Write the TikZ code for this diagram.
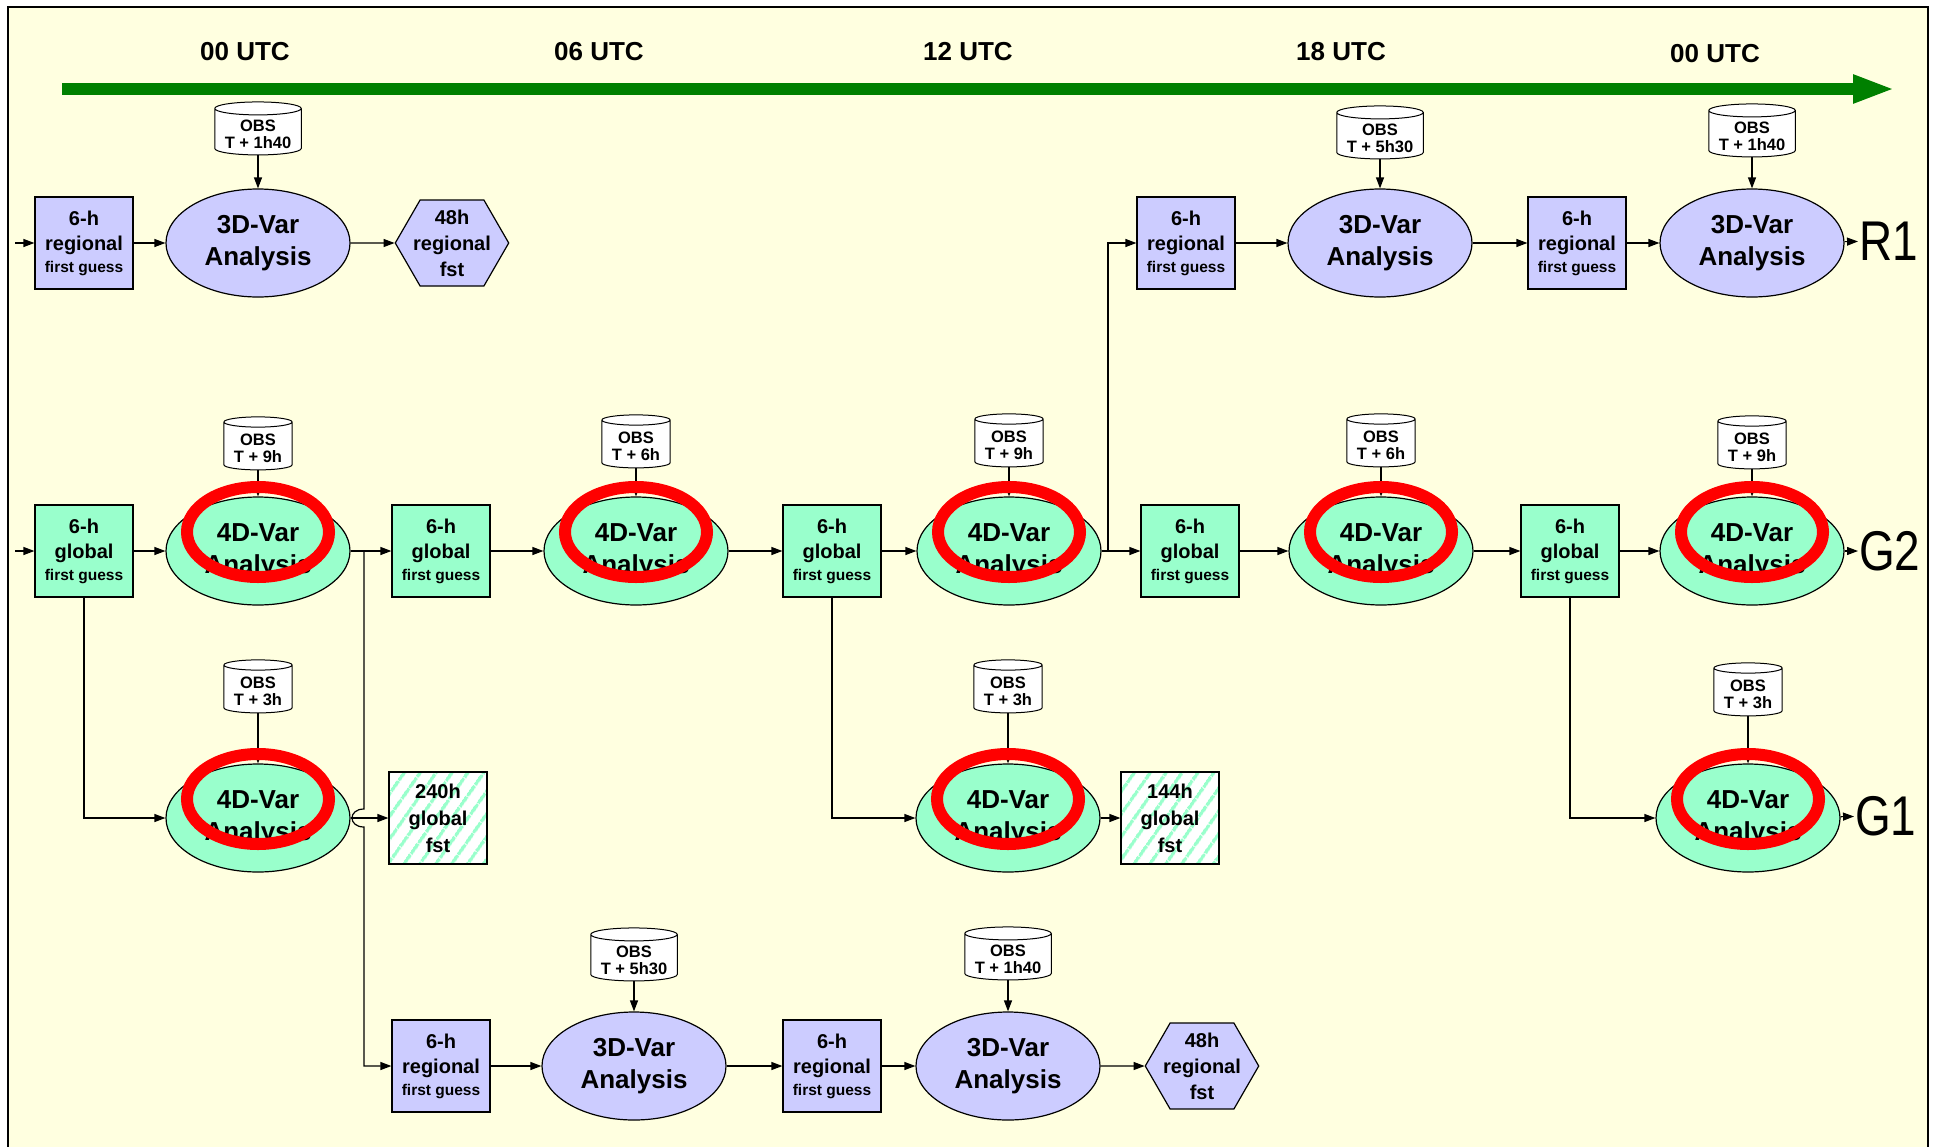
\documentclass[tikz,border=0pt]{standalone}
\usepackage{fontspec}
\setmainfont{Liberation Sans}
\usetikzlibrary{shapes.geometric,shapes.symbols,arrows.meta,patterns.meta}
\definecolor{bgyellow}{RGB}{255,255,224}
\definecolor{regblue}{RGB}{204,204,255}
\definecolor{mint}{RGB}{153,255,204}
\definecolor{timegreen}{RGB}{0,128,0}

\begin{document}
\begin{tikzpicture}[x=1pt,y=-1pt,
  regbox/.style={draw,fill=regblue,line width=1.2pt,minimum width=98pt,minimum height=92pt,inner sep=0pt,align=center,font=\bfseries\fontsize{20}{25}\selectfont},
  globox/.style={regbox,fill=mint},
  fstbox/.style={draw,line width=1.2pt,preaction={fill=white},preaction={pattern={Lines[angle=55,distance=13pt,line width=3.5pt]},pattern color=mint},minimum width=98pt,minimum height=92pt,inner sep=0pt,align=center,font=\bfseries\fontsize{20}{27}\selectfont},
  hexa/.style={signal,signal to=east and west,signal pointer angle=120,draw,fill=regblue,line width=1.2pt,minimum height=86pt,inner xsep=-7pt,inner ysep=0pt,align=center,font=\bfseries\fontsize{20}{26}\selectfont},
  ana3d/.style={ellipse,draw,fill=regblue,line width=1.2pt,minimum width=184pt,minimum height=108pt,inner sep=0pt,align=center,font=\bfseries\fontsize{26}{32}\selectfont},
  ana4d/.style={ana3d,fill=mint},
  obs/.style={cylinder,shape border rotate=90,aspect=0.15,draw,fill=white,line width=1pt,minimum height=53pt,inner xsep=10pt,inner ysep=2pt,align=center,font=\bfseries\fontsize{16.5}{17}\selectfont},
  link/.style={-{Triangle[length=11pt,width=8pt]},line width=1.2pt},
  ring/.style={red,line width=12pt},
  tag/.style={font=\fontsize{56}{56}\selectfont,xscale=0.82,inner sep=1pt,anchor=west},
  utc/.style={font=\bfseries\fontsize{26}{26}\selectfont}]
  \useasboundingbox (0,0) rectangle (1937,1146);
  \fill[white] (0,0) rectangle (1937,1146);
  \fill[bgyellow] (8,7) rectangle (1928,1150);
  \draw[line width=2pt] (8,1150) -- (8,7) -- (1928,7) -- (1928,1150);

  \coordinate (tl0) at (62,89);
  \coordinate (tl1) at (1895,89);
  \draw[timegreen,line width=12pt,-{Triangle[length=42pt,width=26pt]}] (tl0) -- (tl1);
  \node[utc] at (245,52) {00 UTC};
  \node[utc] at (599,52) {06 UTC};
  \node[utc] at (968,52) {12 UTC};
  \node[utc] at (1341,52) {18 UTC};
  \node[utc] at (1715,54) {00 UTC};

  \coordinate (r1in) at (15,243);
  \node[regbox] (r1fg0) at (84,243) {6-h\\regional\\[-3pt]{\fontsize{15.5}{18}\selectfont first guess}};
  \node[obs] (r1obs1) at (258,134) {OBS\\T + 1h40};
  \node[ana3d] (r1an1) at (258,243) {3D-Var\\Analysis};
  \node[hexa] (r1fst1) at (452,243) {48h\\regional\\fst};
  \node[regbox] (r1fg3) at (1186,243) {6-h\\regional\\[-3pt]{\fontsize{15.5}{18}\selectfont first guess}};
  \node[obs] (r1obs4) at (1380,138) {OBS\\T + 5h30};
  \node[ana3d] (r1an4) at (1380,243) {3D-Var\\Analysis};
  \node[regbox] (r1fg4) at (1577,243) {6-h\\regional\\[-3pt]{\fontsize{15.5}{18}\selectfont first guess}};
  \node[obs] (r1obs5) at (1752,136) {OBS\\T + 1h40};
  \node[ana3d] (r1an5) at (1752,243) {3D-Var\\Analysis};
  \node[tag] (r1tag) at (1858,241) {R1};

  \coordinate (g2in) at (15,551);
  \node[globox] (g2fg0) at (84,551) {6-h\\global\\[-3pt]{\fontsize{15.5}{18}\selectfont first guess}};
  \node[obs] (g2obs1) at (258,448) {OBS\\T + 9h};
  \node[ana4d] (g2an1) at (258,551) {4D-Var\\Analysis};
  \node[globox] (g2fg1) at (441,551) {6-h\\global\\[-3pt]{\fontsize{15.5}{18}\selectfont first guess}};
  \node[obs] (g2obs2) at (636,446) {OBS\\T + 6h};
  \node[ana4d] (g2an2) at (636,551) {4D-Var\\Analysis};
  \node[globox] (g2fg2) at (832,551) {6-h\\global\\[-3pt]{\fontsize{15.5}{18}\selectfont first guess}};
  \node[obs] (g2obs3) at (1009,445) {OBS\\T + 9h};
  \node[ana4d] (g2an3) at (1009,551) {4D-Var\\Analysis};
  \node[globox] (g2fg3) at (1190,551) {6-h\\global\\[-3pt]{\fontsize{15.5}{18}\selectfont first guess}};
  \node[obs] (g2obs4) at (1381,445) {OBS\\T + 6h};
  \node[ana4d] (g2an4) at (1381,551) {4D-Var\\Analysis};
  \node[globox] (g2fg4) at (1570,551) {6-h\\global\\[-3pt]{\fontsize{15.5}{18}\selectfont first guess}};
  \node[obs] (g2obs5) at (1752,447) {OBS\\T + 9h};
  \node[ana4d] (g2an5) at (1752,551) {4D-Var\\Analysis};
  \node[tag] (g2tag) at (1858,551) {G2};

  \node[obs] (g1obs1) at (258,691) {OBS\\T + 3h};
  \node[ana4d] (g1an1) at (258,818) {4D-Var\\Analysis};
  \node[fstbox] (g1fst1) at (438,818) {240h\\global\\fst};
  \node[obs] (g1obs3) at (1008,691) {OBS\\T + 3h};
  \node[ana4d] (g1an3) at (1008,818) {4D-Var\\Analysis};
  \node[fstbox] (g1fst3) at (1170,818) {144h\\global\\fst};
  \node[obs] (g1obs5) at (1748,694) {OBS\\T + 3h};
  \node[ana4d] (g1an5) at (1748,818) {4D-Var\\Analysis};
  \node[tag] (g1tag) at (1854,816) {G1};

  \node[regbox] (r2fg1) at (441,1066) {6-h\\regional\\[-3pt]{\fontsize{15.5}{18}\selectfont first guess}};
  \node[obs] (r2obs2) at (634,960) {OBS\\T + 5h30};
  \node[ana3d] (r2an2) at (634,1066) {3D-Var\\Analysis};
  \node[regbox] (r2fg2) at (832,1066) {6-h\\regional\\[-3pt]{\fontsize{15.5}{18}\selectfont first guess}};
  \node[obs] (r2obs3) at (1008,959) {OBS\\T + 1h40};
  \node[ana3d] (r2an3) at (1008,1066) {3D-Var\\Analysis};
  \node[hexa] (r2fst3) at (1202,1066) {48h\\regional\\fst};

  \draw[link] (r1in) -- (r1fg0);
  \draw[link] (r1fg0) -- (r1an1);
  \draw[link] (r1an1) -- (r1fst1);
  \draw[link] (r1fg3) -- (r1an4);
  \draw[link] (r1an4) -- (r1fg4);
  \draw[link] (r1fg4) -- (r1an5);
  \draw[link] (r1an5) -- (r1tag);
  \foreach \o/\a in {r1obs1/r1an1,r1obs4/r1an4,r1obs5/r1an5,g2obs1/g2an1,g2obs2/g2an2,g2obs3/g2an3,g2obs4/g2an4,g2obs5/g2an5,g1obs1/g1an1,g1obs3/g1an3,g1obs5/g1an5,r2obs2/r2an2,r2obs3/r2an3}
    \draw[link] (\o) -- (\a);

  \draw[link] (g2in) -- (g2fg0);
  \draw[link] (g2fg0) -- (g2an1);
  \draw[link] (g2an1) -- (g2fg1);
  \draw[link] (g2fg1) -- (g2an2);
  \draw[link] (g2an2) -- (g2fg2);
  \draw[link] (g2fg2) -- (g2an3);
  \draw[link] (g2an3) -- (g2fg3);
  \draw[link] (g2fg3) -- (g2an4);
  \draw[link] (g2an4) -- (g2fg4);
  \draw[link] (g2fg4) -- (g2an5);
  \draw[link] (g2an5) -- (g2tag);

  \draw[link] (g2fg0) |- (g1an1);
  \draw[link] (g2fg2) |- (g1an3);
  \draw[link] (g2fg4) |- (g1an5);
  \draw[link] (g1an1) -- (g1fst1);
  \draw[link] (g1an3) -- (g1fst3);
  \draw[link] (g1an5) -- (g1tag);

  \coordinate (j1) at (364,551);
  \coordinate (hopA) at (364,809);
  \coordinate (hopB) at (364,827);
  \draw[link] (j1) -- (hopA) .. controls +(-16,0) and +(-16,0) .. (hopB) |- (r2fg1);
  \coordinate (j2) at (1108,551);
  \draw[link] (j2) |- (r1fg3);

  \draw[link] (r2fg1) -- (r2an2);
  \draw[link] (r2an2) -- (r2fg2);
  \draw[link] (r2fg2) -- (r2an3);
  \draw[link] (r2an3) -- (r2fst3);

  \foreach \n in {g2an1,g2an2,g2an3,g2an4,g2an5,g1an1,g1an3,g1an5}
    \draw[ring] ([yshift=19pt]\n.center) ellipse [x radius=71pt,y radius=45pt];
\end{tikzpicture}
\end{document}
